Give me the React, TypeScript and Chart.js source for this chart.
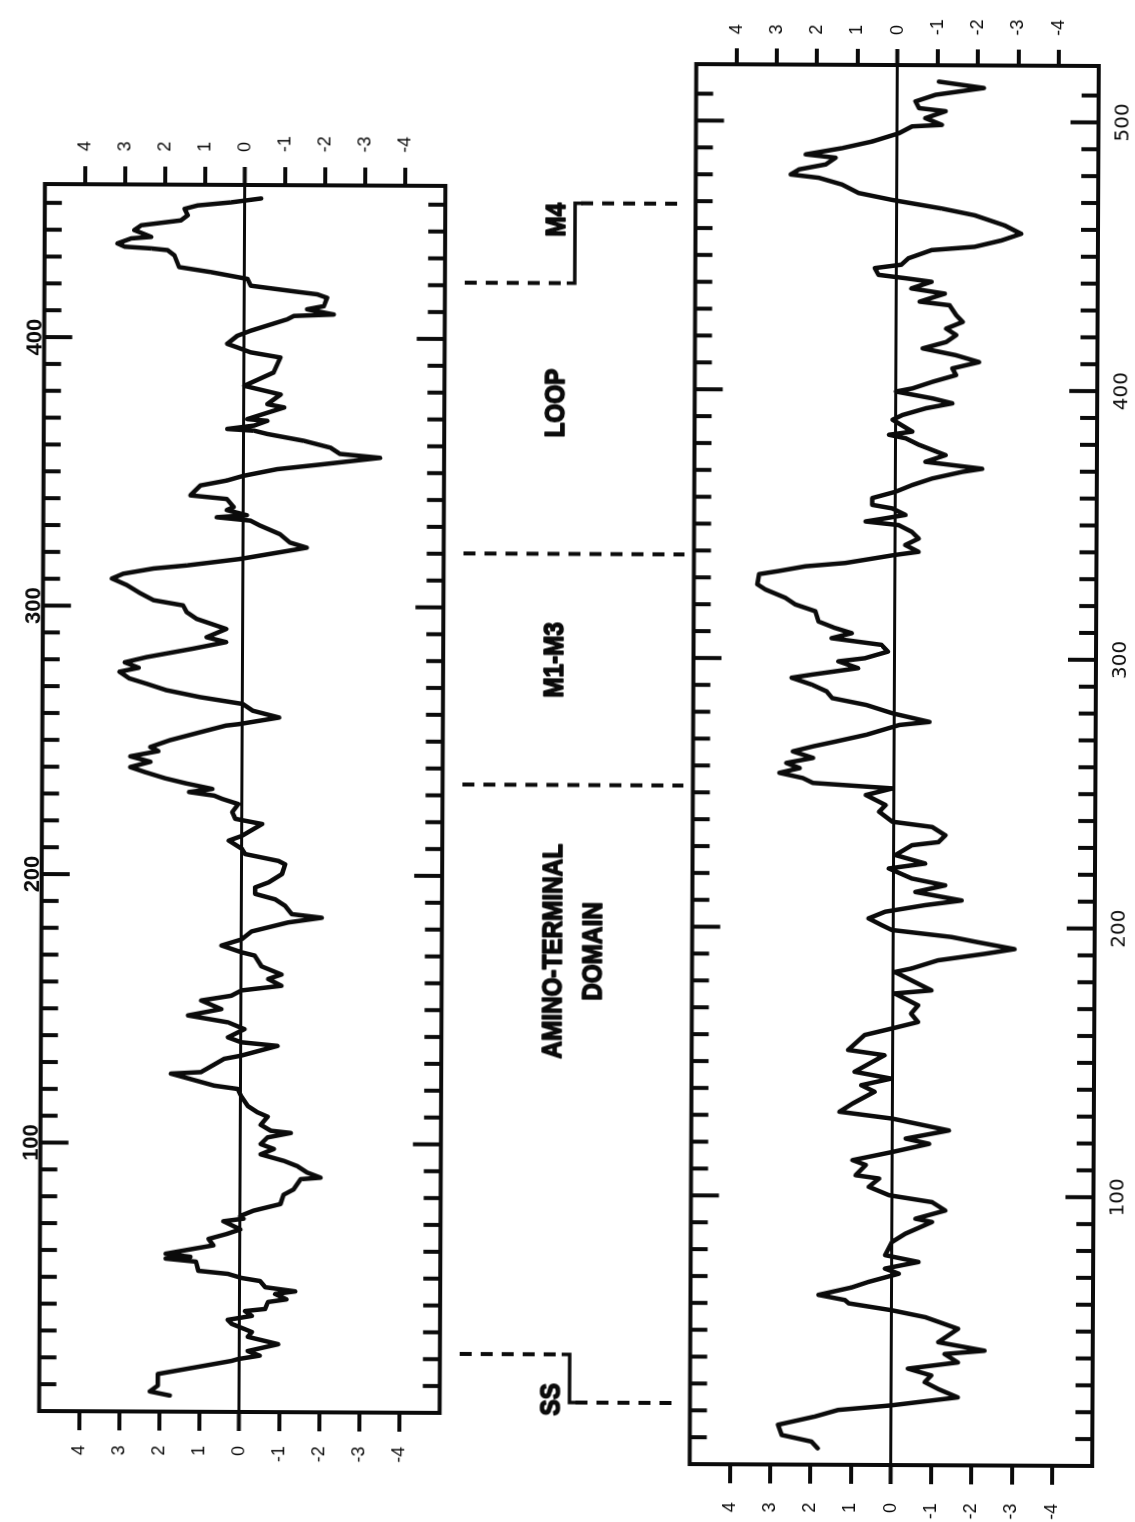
import React, { useEffect, useRef } from 'react';
import { Chart, registerables } from 'chart.js';

Chart.register(...registerables);

// ---------- data (residue number, hydropathy index) ----------
const leftResidues = [
  6, 7.5, 9.7, 14, 19, 19.7, 21, 22.7, 25.3, 28, 29.8, 32.8, 34.3, 35.8, 37.6, 38.4, 41, 42, 44, 45,
  46.5, 48.8, 49.9, 51.4, 52.5, 55.9, 57, 57.7, 58.8, 60.7, 62, 64.4, 66.3, 68, 71, 72, 73, 75, 77.5, 81,
  83, 86.8, 87.4, 89.3, 91.7, 93.6, 96, 98, 99.8, 102.3, 104, 104.8, 107, 110, 111.6, 114, 117.8, 120.3, 121.5, 125.9,
  126.5, 131.5, 132.7, 136.4, 137.7, 139.5, 142.6, 145.1, 147.6, 150, 153.2, 155, 157, 158.8, 161.3, 163, 166, 170, 171.2, 173.7,
  176, 179, 182.4, 184.2, 185.5, 188.6, 191, 193, 195.4, 197.3, 200.4, 204, 205.3, 207.8, 209.7, 212.8, 214.6, 219, 220.9, 223.4,
  226.4, 228.3, 229.5, 230.8, 232, 234, 235.8, 238, 240, 242, 244, 246, 247.5, 250, 253, 255.6, 256.2, 258.7, 261.2, 263.7,
  266.2, 268.7, 271.1, 273, 275.5, 277, 279, 281, 284.2, 286.7, 288.5, 291.6, 295.3, 297.8, 300.3, 302.2, 305, 307.8, 310.2, 312,
  314, 315.2, 317.7, 322, 323.9, 327, 330.1, 332, 333.2, 334, 335.9, 337, 340, 341.3, 345, 346.9, 348.7, 351.2, 353, 355.6,
  357, 359.3, 361.8, 364.3, 365.5, 366.1, 367.4, 369.2, 369.8, 374.2, 375.4, 379, 382.2, 387.2, 392.8, 394.7, 396.5, 397.8, 400.8, 402.7,
  407, 408.3, 408.9, 410.8, 412, 415.1, 416.4, 417.3, 419.5, 422, 424.5, 426.3, 430.7, 432.6, 433.2, 433.8, 435, 436.9, 437.5, 440,
  441.8, 443.7, 445.6, 448, 449.3, 450.5, 452,
];
const leftValues = [
  1.74, 2.24, 2.04, 2.04, 0.2, 0.04, -0.5, -0.2, -0.96, -0.2, -0.3, 0.2, 0.3, -0.3, -0.13, -0.63, -0.7, -1.16, -0.88, -1.38,
  -0.63, -0.5, -0.04, 0.3, 1.04, 1.1, 1.86, 1.24, 1.86, 1.16, 0.67, 0.79, 0.33, 0, 0.42, -0.08, 0, -0.33, -1.0, -1.08,
  -1.33, -1.5, -2.0, -1.66, -1.41, -1.08, -0.5, -0.83, -0.5, -0.67, -1.25, -0.75, -0.5, -0.67, -0.42, -0.17, 0, 0.08, 0.67, 1.75,
  1.0, 0.42, 0, -0.91, 0, 0.33, -0.08, 0.33, 1.33, 0.5, 1.0, 0.25, 0, -1.0, -0.67, -1.0, -0.5, -0.33, 0, 0.5,
  0, -0.25, -1.16, -2.0, -1.25, -1.08, -0.83, -0.33, -0.33, -0.67, -1.0, -1.08, -0.91, -0.08, 0, 0.33, 0, -0.5, 0.17, 0.25,
  0.1, 0.5, 0.7, 1.33, 0.75, 1.4, 1.91, 2.4, 2.8, 2.3, 2.8, 2.1, 2.3, 1.83, 1.08, 0.42, 0.08, -0.91, -0.25, 0,
  1.08, 1.91, 2.41, 2.83, 3.08, 2.6, 2.95, 2.4, 1.25, 0.42, 0.91, 0.42, 1.16, 1.41, 1.5, 2.24, 2.6, 2.91, 3.28, 3.0,
  2.24, 1.41, 0.08, -1.58, -1.16, -0.91, -0.42, -0.17, 0.67, -0.08, 0.42, 0.25, 0.42, 1.33, 1.08, 0.42, 0, -0.83, -1.91, -3.4,
  -2.4, -2.16, -1.5, -0.58, -0.25, 0.42, -0.25, -0.58, -0.08, -1.0, -0.58, -0.91, 0, -0.73, -0.9, -0.15, 0.18, 0.43, 0.18, -0.15,
  -1.06, -1.23, -2.23, -1.56, -1.98, -2.06, -1.81, -1.31, -0.15, -0.07, 0.85, 1.64, 1.76, 1.93, 2.34, 3.0, 3.18, 2.84, 2.34, 2.76,
  2.59, 1.6, 1.43, 1.51, 1.18, 0.35, -0.4,
];

const rightResidues = [
  6.1, 8.6, 11, 14.8, 17.9, 20.4, 22.2, 25.3, 28.4, 30.9, 33.4, 35.9, 38.3, 41.4, 42.7, 45.8, 50.8, 55.1, 57.6, 60.1,
  61.3, 63.2, 66, 68.1, 71.2, 73.1, 75.6, 78.1, 83, 86.1, 90.5, 91.7, 94.8, 97.9, 100.4, 103.5, 106.6, 107.8, 111.6, 113.4,
  116.5, 119.6, 121.5, 124.6, 128.9, 131.4, 134.5, 138.9, 141.3, 143.8, 146.3, 152.5, 154.4, 160, 162.4, 164.9, 168, 171.1, 175.5, 176.7,
  183.5, 184.8, 187.9, 190.4, 192.2, 194.7, 196.6, 199.1, 200.9, 203.4, 205.9, 208.4, 210.2, 213.3, 215.8, 218.3, 222, 223.9, 227, 230.7,
  231.9, 234.4, 237.5, 239.4, 243.1, 245.6, 249.3, 251.8, 253.7, 255.5, 257.4, 259.2, 261.1, 263, 265.4, 267.3, 269.2, 271.7, 275.4, 276.6,
  279.7, 282.8, 285.3, 287.8, 290.3, 292.8, 294, 296.5, 299, 300.2, 302.7, 305.2, 307.6, 309.5, 311.4, 313.8, 317.6, 320.1, 322.5, 325.6,
  327.5, 331.3, 332.5, 334.3, 335.6, 338.7, 339.9, 342.4, 344.8, 347.3, 349.8, 351.1, 352.3, 353.6, 356, 357.3, 359.8, 362.2, 364.7, 367.2,
  369.7, 370.9, 373.4, 375.9, 379.7, 382.1, 383.4, 384.6, 389, 390.8, 393.3, 395.2, 397, 399.5, 400.7, 403.2, 405.7, 408.2, 410.6, 413.1,
  415.6, 418, 420.6, 423, 425.5, 428, 431.7, 433, 436, 437.9, 440.4, 441.7, 442.9, 445.4, 446.7, 449.1, 452.2, 453.5, 455.9, 458.4,
  461.5, 465.2, 467.7, 470.8, 473.3, 476.4, 478.9, 480.1, 482, 483.9, 486.4, 487.6, 490, 492.5, 495.6, 498.2, 498.8, 501.3, 503.9, 505,
  507.5, 510, 512.6, 514.9,
];
const rightValues = [
  1.82, 1.98, 2.72, 2.81, 1.9, 1.32, 0, -1.65, -1.16, -0.83, -0.99, -0.41, -1.65, -1.32, -2.31, -1.16, -1.65, -0.83, 0, 1.07,
  1.16, 1.82, 1.0, 0.58, -0.17, 0.17, -0.66, 0.17, 0, -0.33, -0.99, -0.58, -1.32, -0.99, 0.08, 0.58, 0.33, 0.91, 0.66, 0.99,
  0, -0.91, -0.33, -1.4, 0, 1.32, 0.99, 0.45, 0.78, 0.04, 0.95, 0.21, 1.11, 0.7, 0.04, -0.62, -0.45, -0.62, -0.04, -0.95,
  -0.04, -0.45, -1.11, -2.27, -3.01, -2.1, -1.44, 0.04, 0.29, 0.62, 0.21, -0.78, -1.69, -0.54, -1.28, -0.45, 0.12, -0.78, -0.04, -0.45,
  -1.11, -1.28, -0.95, 0.04, 0.37, 0.21, 0.7, 0.04, 2.02, 2.27, 2.85, 2.35, 2.68, 2.02, 2.52, 2.02, 1.44, 0.7, -0.12, -0.87,
  0.04, 0.7, 1.55, 1.69, 2.06, 2.56, 2.06, 0.91, 1.4, 0.74, 0.17, 0.33, 1.57, 1.07, 1.49, 1.9, 1.98, 2.48, 2.72, 3.22,
  3.42, 3.38, 2.89, 2.23, 1.24, 0, -0.58, -0.25, -0.58, -0.41, -0.08, 0.74, 0.25, -0.25, 0.08, 0.58, 0.58, 0, -0.41, -0.91,
  -1.65, -2.15, -0.74, -1.24, -0.58, -0.25, 0.17, -0.41, 0.08, -0.17, -0.74, -1.4, -0.91, 0, -0.41, -0.91, -1.49, -1.4, -2.06, -1.49,
  -0.66, -1.24, -1.49, -1.24, -1.65, -1.49, -1.32, -0.58, -1.2, -0.37, -0.87, -0.21, 0.45, 0.54, -0.12, -0.29, -0.87, -1.94, -2.6, -3.09,
  -2.68, -1.94, -1.11, 0.12, 0.95, 1.36, 1.94, 2.64, 2.43, 1.77, 1.53, 2.27, 1.36, 0.62, -0.04, -0.37, -1.11, -0.7, -1.2, -0.54,
  -0.45, -0.95, -2.15, -1.03,
];

const yTickValues = [4, 3, 2, 1, 0, -1, -2, -3, -4];
const leftMaxResidue = 457;
const rightMaxResidue = 521;

// domain boundaries: residue in the upper (left) plot and in the lower (right) plot
const boundaryLeftRes = [22, 234, 320, 421];
const boundaryRightRes = [22.7, 252.5, 338.5, 469];
// region labels, anchored on the lower plot's residue scale
const regionLabels = ['SS', 'AMINO-TERMINAL', 'DOMAIN', 'M1-M3', 'LOOP', 'M4'];
const regionLabelRes = [23.8, 190.6, 190.6, 299, 394.6, 462.8];
const regionLabelLine = [0, 0, 1, 0, 0, 0];

// ---------- styling ----------
const FONT = "'Liberation Sans', Arial, Helvetica, sans-serif";
const INK = '#0b0b0b';
const W = 1522;
const A_H = 455;
const B_H = 680;

function zeroPad(s: any) {
  s.paddingTop = 0;
  s.paddingBottom = 0;
  s.paddingLeft = 0;
  s.paddingRight = 0;
}

const frameTicks = {
  id: 'frameTicks',
  afterDraw(chart: any) {
    const { ctx, chartArea: ca } = chart;
    const xs = chart.scales.x;
    ctx.save();
    ctx.strokeStyle = INK;
    ctx.lineWidth = 4;
    ctx.lineCap = 'butt';
    for (const t of xs.ticks) {
      const val = Math.round(t.value);
      const px = xs.getPixelForValue(t.value);
      if (px < ca.left + 5 || px > ca.right - 5) continue;
      const len = val % 100 === 0 ? 28 : 17;
      ctx.beginPath();
      ctx.moveTo(px, ca.top);
      ctx.lineTo(px, ca.top + len);
      ctx.moveTo(px, ca.bottom);
      ctx.lineTo(px, ca.bottom - len);
      ctx.stroke();
    }
    ctx.lineJoin = 'miter';
    ctx.strokeRect(ca.left, ca.top, ca.right - ca.left, ca.bottom - ca.top);
    ctx.restore();
  },
};

function makeRegionPlugin(getUpper: () => any) {
  return {
    id: 'regions',
    afterDraw(chart: any) {
      const upper = getUpper();
      if (!upper) return;
      const ctx = chart.ctx;
      const xa = upper.scales.x;
      const xb = chart.scales.x;
      const vStart = 7;
      const vBracket = 117;
      const vEnd = 228;
      ctx.save();
      ctx.strokeStyle = INK;
      ctx.lineWidth = 4;
      boundaryLeftRes.forEach((lr, i) => {
        const u1 = xa.getPixelForValue(lr);
        const u2 = xb.getPixelForValue(boundaryRightRes[i]);
        ctx.setLineDash([12, 9]);
        ctx.lineCap = 'butt';
        if (Math.abs(u1 - u2) < 3) {
          ctx.beginPath();
          ctx.moveTo(u2, vStart);
          ctx.lineTo(u2, vEnd);
          ctx.stroke();
        } else {
          ctx.beginPath();
          ctx.moveTo(u1, vStart);
          ctx.lineTo(u1, vBracket - 6);
          ctx.stroke();
          ctx.beginPath();
          ctx.moveTo(u2, vBracket + 6);
          ctx.lineTo(u2, vEnd);
          ctx.stroke();
          ctx.setLineDash([]);
          ctx.lineWidth = 3.5;
          ctx.beginPath();
          ctx.moveTo(u1, vBracket - 8);
          ctx.lineTo(u1, vBracket);
          ctx.lineTo(u2, vBracket);
          ctx.lineTo(u2, vBracket + 8);
          ctx.stroke();
          ctx.lineWidth = 4;
        }
      });
      ctx.setLineDash([]);
      ctx.fillStyle = INK;
      ctx.strokeStyle = INK;
      ctx.lineWidth = 1.6;
      ctx.lineJoin = 'round';
      ctx.font = `bold 27px ${FONT}`;
      ctx.textAlign = 'center';
      ctx.textBaseline = 'alphabetic';
      regionLabels.forEach((txt, i) => {
        const u = xb.getPixelForValue(regionLabelRes[i]);
        const vBase = regionLabelLine[i] === 0 ? 107 : 147;
        ctx.save();
        ctx.translate(u, vBase);
        ctx.scale(0.9, 1);
        ctx.fillText(txt, 0, 0);
        ctx.strokeText(txt, 0, 0);
        ctx.restore();
      });
      ctx.restore();
    },
  };
}

function yAxis(position: string, tickLength: number, padding: number, width: number, drawZero: boolean) {
  return {
    type: 'linear',
    position,
    min: -5,
    max: 5,
    afterBuildTicks: (s: any) => {
      s.ticks = yTickValues.map((value) => ({ value }));
    },
    afterFit: (s: any) => {
      s.width = width;
      zeroPad(s);
    },
    ticks: {
      padding,
      color: INK,
      font: { family: FONT, size: 18 },
      callback: (v: any) => String(v),
    },
    grid: {
      drawOnChartArea: drawZero,
      drawTicks: true,
      tickLength,
      tickWidth: 4,
      tickColor: INK,
      color: (c: any) => (c.tick && c.tick.value === 0 ? INK : 'rgba(0,0,0,0)'),
      lineWidth: (c: any) => (c.tick && c.tick.value === 0 ? 3 : 0),
    },
    border: { display: false },
  };
}

function xAxis(position: string, max: number, height: number, padding: number, font: any) {
  return {
    type: 'linear',
    position,
    min: 0,
    max,
    afterFit: (s: any) => {
      s.height = height;
      zeroPad(s);
    },
    ticks: {
      stepSize: 10,
      includeBounds: false,
      autoSkip: false,
      maxRotation: 0,
      minRotation: 0,
      padding,
      color: INK,
      font,
      callback: (v: any) => {
        const r = Math.round(v);
        return r > 0 && r % 100 === 0 ? String(r) : '';
      },
    },
    grid: { display: false, drawTicks: false },
    border: { display: false },
  };
}

function lineDataset(xs: number[], ys: number[]) {
  return {
    data: xs.map((x, i) => ({ x, y: ys[i] })),
    borderColor: INK,
    borderWidth: 4.5,
    pointRadius: 0,
    tension: 0,
    fill: false,
    borderJoinStyle: 'round',
    borderCapStyle: 'round',
  };
}

export default function App() {
  const aRef = useRef<HTMLCanvasElement | null>(null);
  const bRef = useRef<HTMLCanvasElement | null>(null);

  useEffect(() => {
    if (!aRef.current || !bRef.current) return;
    const a = new Chart(aRef.current, {
      type: 'line',
      data: { datasets: [lineDataset(leftResidues, leftValues) as any] },
      options: {
        responsive: false,
        animation: false,
        events: [],
        layout: { padding: { top: 0, left: 0, right: 0, bottom: 12.8 } },
        plugins: { legend: { display: false }, tooltip: { enabled: false } },
        scales: {
          x: xAxis('top', leftMaxResidue, 41.7, -4, { family: FONT, size: 22, weight: 'bold' }),
          y: yAxis('left', 19, 15, 109, true),
          y2: yAxis('right', 18, 15, 186, false),
        } as any,
      },
      plugins: [frameTicks as any],
    });
    const b = new Chart(bRef.current, {
      type: 'line',
      data: { datasets: [lineDataset(rightResidues, rightValues) as any] },
      options: {
        responsive: false,
        animation: false,
        events: [],
        layout: { padding: { top: 237.5, left: 0, right: 0, bottom: 0 } },
        plugins: { legend: { display: false }, tooltip: { enabled: false } },
        scales: {
          x: xAxis('bottom', rightMaxResidue, 40, 13, { family: "'DejaVu Sans', sans-serif", size: 20 }),
          y: yAxis('left', 19, 19, 59, true),
          y2: yAxis('right', 16, 14, 63, false),
        } as any,
      },
      plugins: [frameTicks as any, makeRegionPlugin(() => a) as any],
    });
    return () => {
      b.destroy();
      a.destroy();
    };
  }, []);

  return (
    <div
      style={{
        position: 'absolute',
        left: 0,
        top: 0,
        width: 1135,
        height: 1522,
        overflow: 'hidden',
        background: '#fff',
      }}
    >
      <div
        style={{
          position: 'absolute',
          width: W,
          height: A_H + B_H,
          left: (1135 - W) / 2,
          top: (1522 - (A_H + B_H)) / 2,
          transformOrigin: '50% 50%',
          transform: 'rotate(-89.73deg)',
        }}
      >
        <canvas
          ref={aRef}
          width={W}
          height={A_H}
          style={{ position: 'absolute', left: 0, top: 0, width: W, height: A_H }}
        />
        <canvas
          ref={bRef}
          width={W}
          height={B_H}
          style={{ position: 'absolute', left: 0, top: A_H, width: W, height: B_H }}
        />
      </div>
    </div>
  );
}
